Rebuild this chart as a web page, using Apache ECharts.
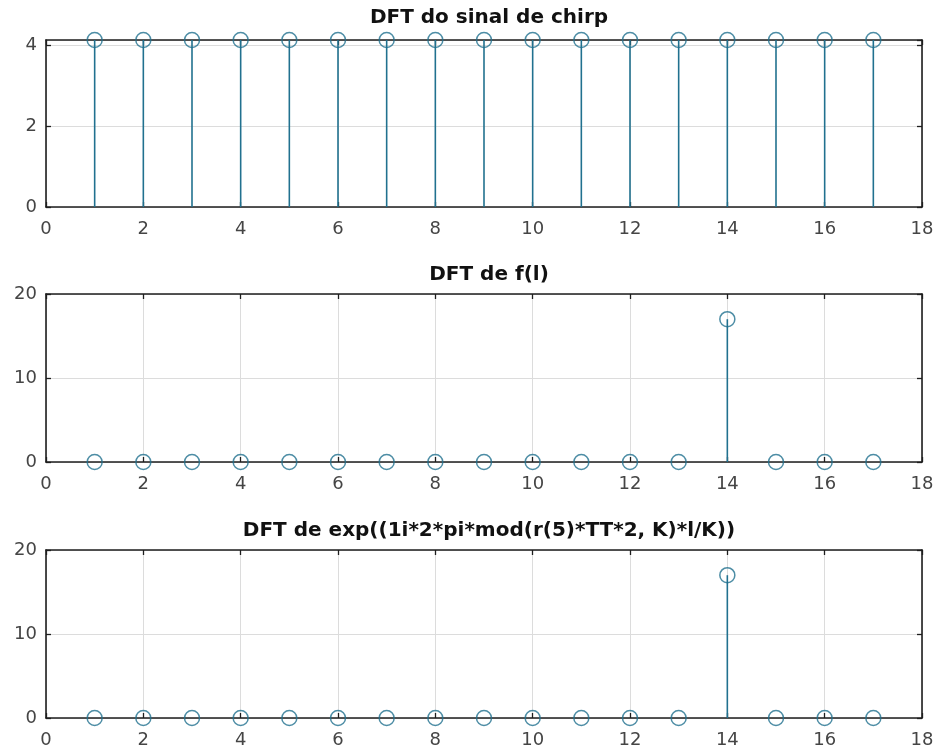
<!DOCTYPE html>
<html>
<head>
<meta charset="utf-8">
<script src="https://cdn.jsdelivr.net/npm/echarts@6/dist/echarts.min.js"></script>
<style>
html,body{margin:0;padding:0;background:#fff;}
#chart{width:939px;height:753px;}
</style>
</head>
<body>
<div id="chart"></div>
<script>
// ---- data ----
const xIndex = [1, 2, 3, 4, 5, 6, 7, 8, 9, 10, 11, 12, 13, 14, 15, 16, 17];
const chirpDFT = [4.1231, 4.1231, 4.1231, 4.1231, 4.1231, 4.1231, 4.1231, 4.1231, 4.1231, 4.1231, 4.1231, 4.1231, 4.1231, 4.1231, 4.1231, 4.1231, 4.1231];
const fDFT = [0, 0, 0, 0, 0, 0, 0, 0, 0, 0, 0, 0, 0, 17, 0, 0, 0];
const expDFT = [0, 0, 0, 0, 0, 0, 0, 0, 0, 0, 0, 0, 0, 17, 0, 0, 0];
const titles = ['DFT do sinal de chirp', 'DFT de f(l)', 'DFT de exp((1i*2*pi*mod(r(5)*TT*2, K)*l/K))'];
const xRange = [0, 18];
const xStep = 2;
const yRanges = [[0, 4.1231], [0, 20], [0, 20]];
const ySteps = [2, 10, 10];

// ---- styling ----
const stemColor = '#21718f';
const axisColor = '#1e1e1e';
const labelColor = '#454545';
const gridColor = '#dcdcdc';
const tickFont = 'DejaVu Sans';
const gridsLayout = [
  {left: 46, width: 876, top: 40, height: 167},
  {left: 46, width: 876, top: 294, height: 168},
  {left: 46, width: 876, top: 550, height: 168}
];
const titleTops = [3, 260, 516];
const seriesData = [chirpDFT, fDFT, expDFT];

const grid = [], xAxis = [], yAxis = [], series = [], title = [];
gridsLayout.forEach((g, i) => {
  grid.push(Object.assign({containLabel: false}, g));
  title.push({
    text: titles[i], left: 484, top: titleTops[i], textAlign: 'center',
    textStyle: {fontFamily: 'DejaVu Sans', fontWeight: 'bold', fontSize: 20, color: '#111'}
  });
  const common = {
    type: 'value', gridIndex: i,
    axisLine: {show: true, onZero: false, lineStyle: {color: axisColor, width: 1.6}},
    axisTick: {show: true, inside: true, length: 5, lineStyle: {color: axisColor, width: 1.3}}
  };
  // bottom x axis
  xAxis.push(Object.assign({}, common, {
    position: 'bottom', min: xRange[0], max: xRange[1], interval: xStep,
    axisLabel: {show: true, margin: 13, color: labelColor, fontFamily: tickFont, fontSize: 18},
    splitLine: {show: true, lineStyle: {color: gridColor, width: 1}}
  }));
  // top x axis
  xAxis.push(Object.assign({}, common, {
    position: 'top', min: xRange[0], max: xRange[1], interval: xStep,
    axisLabel: {show: false}, splitLine: {show: false}
  }));
  // left y axis
  yAxis.push(Object.assign({}, common, {
    position: 'left', min: yRanges[i][0], max: yRanges[i][1], interval: ySteps[i],
    axisLabel: {show: true, margin: 9, color: labelColor, fontFamily: tickFont, fontSize: 18,
      showMaxLabel: i !== 0},
    splitLine: {show: true, lineStyle: {color: gridColor, width: 1}}
  }));
  // right y axis
  yAxis.push(Object.assign({}, common, {
    position: 'right', min: yRanges[i][0], max: yRanges[i][1], interval: ySteps[i],
    axisLabel: {show: false}, splitLine: {show: false}
  }));
  const data = xIndex.map((x, k) => [x, seriesData[i][k]]);
  series.push({
    type: 'custom', xAxisIndex: 2 * i, yAxisIndex: 2 * i, data: data, z: 3, clip: false,
    renderItem: function (params, api) {
      const p0 = api.coord([api.value(0), 0]);
      const p1 = api.coord([api.value(0), api.value(1)]);
      return {type: 'line', shape: {x1: p0[0], y1: p0[1], x2: p1[0], y2: p1[1]},
        style: {stroke: stemColor, lineWidth: 1.6}};
    }
  });
  series.push({
    type: 'scatter', xAxisIndex: 2 * i, yAxisIndex: 2 * i, data: data, z: 4, clip: false,
    symbol: 'circle', symbolSize: 15,
    itemStyle: {color: 'rgba(0,0,0,0)', borderColor: stemColor, borderWidth: 1.5},
    emphasis: {disabled: true}
  });
});

const chart = echarts.init(document.getElementById('chart'), null, {renderer: 'canvas'});
chart.setOption({
  animation: false,
  backgroundColor: '#ffffff',
  title: title, grid: grid, xAxis: xAxis, yAxis: yAxis, series: series
});
</script>
</body>
</html>
